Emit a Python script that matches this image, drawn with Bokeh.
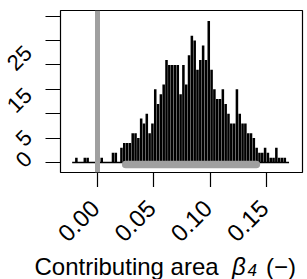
import math
import numpy as np
from bokeh.plotting import figure
from bokeh.layouts import column, row
from bokeh.models import FixedTicker, Span, Range1d, ColumnDataSource
from bokeh.core.properties import value
from bokeh.embed import file_html
from bokeh.resources import INLINE

# ---- data ----
bin_start = -0.0225
bin_width = 0.0025
counts = [0, 1, 0, 0, 1, 1, 0, 0, 0, 0,
          1, 0, 0, 0, 2, 2, 0, 3, 4, 4,
          4, 6, 6, 5, 9, 8, 10, 6, 8, 15,
          12, 14, 16, 21, 20, 20, 20, 20, 14, 20,
          16, 22, 26, 25, 19, 21, 24, 21, 29, 19,
          15, 13, 13, 15, 12, 10, 8, 8, 15, 10,
          8, 8, 6, 6, 5, 3, 2, 2, 3, 2,
          1, 1, 3, 1, 1, 1, 0]
zero_line = 0.0
ci_low, ci_high = 0.025, 0.141
ci_level = -0.43
x_ticks = [0.0, 0.05, 0.10, 0.15]
x_tick_labels = ["0.00", "0.05", "0.10", "0.15"]
y_ticks = [0, 5, 10, 15, 20, 25, 30]
y_tick_labels = ["0", "5", "", "15", "", "25", ""]
title_parts = ["Contributing area", "\u03b2", "4", "(\u2212)"]

# ---- layout (pixels) ----
X0, X1 = -0.03284, 0.18195
Y0, Y1 = -2.05, 31.17
FRAME_W, FRAME_H = 242, 162
TICK = 15
M_LEFT, M_RIGHT, M_TOP, M_BOTTOM = TICK, 5, 10, TICK
L_W = 45
B_H = 92
M_W = M_LEFT + FRAME_W + M_RIGHT
M_H = M_TOP + FRAME_H + M_BOTTOM
TOTAL_W = L_W + M_W
ppx = FRAME_W / (X1 - X0)
ppy = FRAME_H / (Y1 - Y0)
FONT = value("Liberation Sans")

n = len(counts)
edges = bin_start + bin_width * np.arange(n + 1)
centers = (edges[:-1] + edges[1:]) / 2
src = ColumnDataSource(dict(x=centers, top=counts))


def bare(fig):
    fig.outline_line_color = None
    fig.background_fill_color = "white"
    fig.border_fill_color = "white"
    fig.min_border = 0
    fig.grid.visible = False
    return fig


# ---- main plot ----
p = figure(width=M_W, height=M_H, output_backend="svg", toolbar_location=None,
           title_location=None,
           x_range=Range1d(X0, X1), y_range=Range1d(Y0, Y1),
           min_border_left=M_LEFT, min_border_right=M_RIGHT,
           min_border_top=M_TOP, min_border_bottom=M_BOTTOM)
p.background_fill_color = "white"
p.border_fill_color = "white"
p.outline_line_color = "black"
p.outline_line_width = 1.2
p.xgrid.visible = False
p.ygrid.visible = False

p.vbar(x="x", top="top", bottom=0, width=bin_width * 0.9, source=src,
       fill_color="black", line_color=None)
p.line([edges[0], edges[-1]], [0, 0], line_color="black", line_width=1.3)
p.line([ci_low, ci_high], [ci_level, ci_level], line_color="#A0A0A0",
       line_width=7.5, line_cap="round")
p.add_layout(Span(location=zero_line, dimension="height", line_color="#A0A0A0",
                  line_width=5))

for ax, ticks in ((p.xaxis, x_ticks), (p.yaxis, y_ticks)):
    ax.ticker = FixedTicker(ticks=ticks)
    ax.major_tick_out = TICK
    ax.major_tick_in = 0
    ax.minor_tick_out = 0
    ax.minor_tick_in = 0
    ax.major_tick_line_color = "black"
    ax.major_tick_line_width = 1.2
    ax.axis_line_color = None
    # tick labels are drawn rotated, R-style, in the side strips below
    ax.major_label_text_font_size = "0px"
    ax.major_label_text_color = None
    ax.major_label_standoff = 0

# ---- left strip: y tick labels (same y scale as the main plot) ----
left = bare(figure(width=L_W, height=M_H, output_backend="svg",
                   toolbar_location=None, title_location=None,
                   x_axis_type=None, y_axis_type=None,
                   x_range=Range1d(0, L_W),
                   y_range=Range1d(Y0 - M_BOTTOM / ppy, Y1 + M_TOP / ppy)))
ysel = [(t, s) for t, s in zip(y_ticks, y_tick_labels) if s]
left.text(x=[27.6] * len(ysel), y=[t for t, _ in ysel], text=[s for _, s in ysel],
          angle=math.pi / 4, text_align="right", text_baseline="middle",
          y_offset=4.1, text_font=FONT, text_font_size="22px", text_color="black")

# ---- bottom strip: x tick labels and axis title (same x scale) ----
bx0 = X0 - (L_W + M_LEFT) / ppx
bottom = bare(figure(width=TOTAL_W, height=B_H, output_backend="svg",
                     toolbar_location=None, title_location=None,
                     x_axis_type=None, y_axis_type=None,
                     x_range=Range1d(bx0, X1 + M_RIGHT / ppx),
                     y_range=Range1d(0, B_H)))
bottom.text(x=x_ticks, y=[75.4] * len(x_ticks), text=x_tick_labels,
            angle=math.pi / 4, text_align="right", text_baseline="middle",
            x_offset=-2.4, text_font=FONT, text_font_size="24px", text_color="black")

specs = [(34, 13.3, "24px", "normal"),
         (231.5, 13.3, "24px", "italic"),
         (247, 9.9, "17px", "italic"),
         (265.5, 13.3, "24px", "normal")]
for txt, (dx, yy, fs, style) in zip(title_parts, specs):
    bottom.text(x=[bx0], y=[yy], text=[txt], x_offset=dx,
                text_align="left", text_baseline="middle",
                text_font=FONT, text_font_size=fs,
                text_font_style=value(style), text_color="black")

layout = column(row(left, p), bottom)
open("out.html", "w").write(file_html(layout, INLINE))
